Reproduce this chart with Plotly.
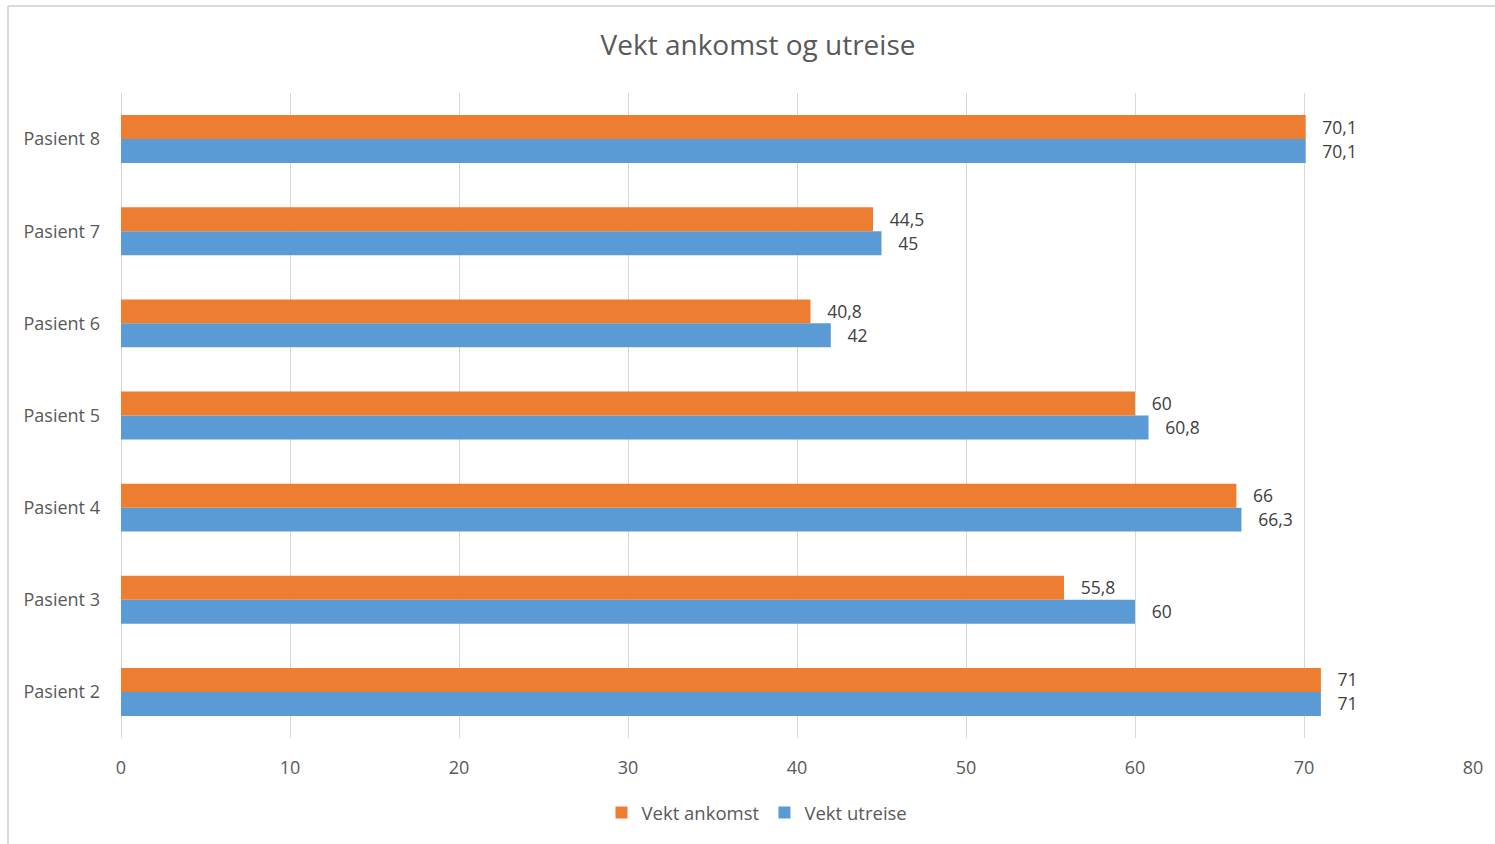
import plotly.graph_objects as go

categories = ["Pasient 2", "Pasient 3", "Pasient 4", "Pasient 5", "Pasient 6", "Pasient 7", "Pasient 8"]
vekt_ankomst = [71, 55.8, 66, 60, 40.8, 44.5, 70.1]
vekt_utreise = [71, 60, 66.3, 60.8, 42, 45, 70.1]
x_ticks = [0, 10, 20, 30, 40, 50, 60, 70, 80]

def fmt(v):
    return "   " + f"{v:g}".replace(".", ",")

FONT = "Open Sans"
W, H = 1495, 844
L, R, T, B = 121, 22, 93, 106

fig = go.Figure()
fig.add_trace(go.Bar(
    y=categories, x=vekt_utreise, orientation="h", name="Vekt utreise",
    marker=dict(color="#5B9BD5", line=dict(width=0)),
    text=[fmt(v) for v in vekt_utreise], textposition="outside",
    textfont=dict(size=19, color="#404040", family=FONT), cliponaxis=False,
))
fig.add_trace(go.Bar(
    y=categories, x=vekt_ankomst, orientation="h", name="Vekt ankomst",
    marker=dict(color="#ED7D31", line=dict(width=0)),
    text=[fmt(v) for v in vekt_ankomst], textposition="outside",
    textfont=dict(size=19, color="#404040", family=FONT), cliponaxis=False,
))

fig.update_layout(
    width=W, height=H,
    margin=dict(l=L, r=R, t=T, b=B),
    paper_bgcolor="white", plot_bgcolor="white",
    barmode="group", bargap=0.48, bargroupgap=0,
    font=dict(family=FONT, color="#595959", size=18),
    title=dict(text="Vekt ankomst og utreise", x=758 / W, xref="container", xanchor="center",
               y=1 - 45 / H, yref="container", yanchor="middle",
               font=dict(size=28, color="#595959", family=FONT)),
    xaxis=dict(range=[0, 80], tickvals=x_ticks, showgrid=True, gridcolor="#D9D9D9", gridwidth=1.3,
               zeroline=True, zerolinecolor="#D9D9D9", zerolinewidth=1.3, showline=False,
               ticks="", ticklabelstandoff=17, tickfont=dict(size=18, color="#595959")),
    yaxis=dict(categoryorder="array", categoryarray=categories, showgrid=False, showline=False,
               ticks="", ticklabelstandoff=20, tickfont=dict(size=18, color="#595959")),
    legend=dict(orientation="h", traceorder="reversed", xref="container", yref="container",
                x=757 / W, xanchor="center", y=1 - 813 / H, yanchor="middle",
                font=dict(size=18.5, color="#595959"), itemwidth=30),
)

# chart frame border (light gray), left and top edges
fig.add_shape(type="line", xref="paper", yref="paper",
              x0=(8 - L) / (W - L - R), x1=(W - L) / (W - L - R),
              y0=(H - B - 6) / (H - T - B), y1=(H - B - 6) / (H - T - B),
              line=dict(color="#D9D9D9", width=2))
fig.add_shape(type="line", xref="paper", yref="paper",
              x0=(8 - L) / (W - L - R), x1=(8 - L) / (W - L - R),
              y0=(H - B - 6) / (H - T - B), y1=-B / (H - T - B),
              line=dict(color="#D9D9D9", width=2))

fig.write_html("out.html")
